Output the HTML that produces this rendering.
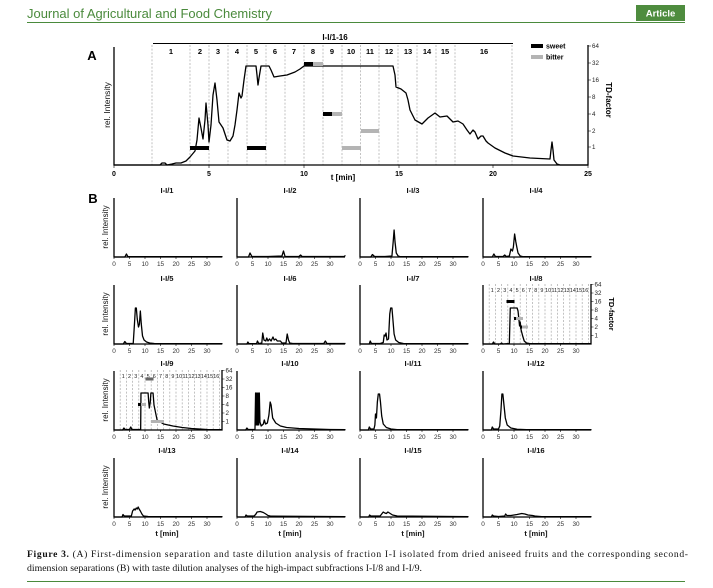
<!DOCTYPE html>
<html><head><meta charset="utf-8"><style>
html,body{margin:0;padding:0;background:#fff;}
svg{display:block;}
text{font-family:"Liberation Sans",Arial,sans-serif;}
text.cap{font-family:"Liberation Serif","Times New Roman",serif;}
.t{font-size:6.4px;fill:#333;text-anchor:middle;}
.tt{font-size:7.6px;font-weight:bold;text-anchor:middle;fill:#111;}
.ax{stroke:#000;stroke-width:1.3;fill:none;}
.tk{stroke:#000;stroke-width:0.6;}
.tr{fill:none;stroke:#000;stroke-width:1.3;stroke-linejoin:round;}
.dl{stroke:#a8a8a8;stroke-width:0.7;stroke-dasharray:2,1.6;}
.td{font-size:6.2px;fill:#222;}
.fn{font-size:5.4px;fill:#222;text-anchor:middle;}
</style></head><body>
<svg width="713" height="588" viewBox="0 0 713 588" xmlns="http://www.w3.org/2000/svg">
<rect width="713" height="588" fill="#fff"/>
<!-- header -->
<text x="27" y="18" font-size="13" fill="#4a8a3c" textLength="245" lengthAdjust="spacingAndGlyphs">Journal of Agricultural and Food Chemistry</text>
<line x1="27" y1="22.5" x2="685" y2="22.5" stroke="#4a8a3c" stroke-width="1"/>
<rect x="636" y="5" width="49" height="16" fill="#4e8c3e"/>
<text x="660.5" y="16.5" font-size="9.5" font-weight="bold" fill="#fff" text-anchor="middle">Article</text>

<!-- ===== Panel A ===== -->
<text x="92" y="60" font-size="13" font-weight="bold" text-anchor="middle">A</text>
<text x="335" y="40" font-size="8" font-weight="bold" text-anchor="middle">I-I/1-16</text>
<line x1="153" y1="43.5" x2="513" y2="43.5" stroke="#000" stroke-width="0.9"/>
<g class="dl">
<line x1="152" y1="45" x2="152" y2="165"/><line x1="190" y1="45" x2="190" y2="165"/>
<line x1="209" y1="45" x2="209" y2="165"/><line x1="228" y1="45" x2="228" y2="165"/>
<line x1="247" y1="45" x2="247" y2="165"/><line x1="266" y1="45" x2="266" y2="165"/>
<line x1="285" y1="45" x2="285" y2="165"/><line x1="304" y1="45" x2="304" y2="165"/>
<line x1="323" y1="45" x2="323" y2="165"/><line x1="342" y1="45" x2="342" y2="165"/>
<line x1="360.5" y1="45" x2="360.5" y2="165"/><line x1="379" y1="45" x2="379" y2="165"/>
<line x1="398" y1="45" x2="398" y2="165"/><line x1="417" y1="45" x2="417" y2="165"/>
<line x1="436" y1="45" x2="436" y2="165"/><line x1="455" y1="45" x2="455" y2="165"/>
<line x1="512" y1="45" x2="512" y2="165"/>
</g>
<g font-size="7.5" font-weight="bold" text-anchor="middle">
<text x="171" y="54">1</text><text x="200" y="54">2</text><text x="218" y="54">3</text>
<text x="237" y="54">4</text><text x="256" y="54">5</text><text x="275" y="54">6</text>
<text x="294" y="54">7</text><text x="313" y="54">8</text><text x="332" y="54">9</text>
<text x="351" y="54">10</text><text x="370" y="54">11</text><text x="389" y="54">12</text>
<text x="408" y="54">13</text><text x="427" y="54">14</text><text x="445" y="54">15</text>
<text x="484" y="54">16</text>
</g>
<!-- legend -->
<rect x="531" y="44" width="12" height="4" fill="#000"/>
<text x="546" y="48.5" font-size="7" font-weight="bold">sweet</text>
<rect x="531" y="55" width="12" height="4" fill="#b4b4b4"/>
<text x="546" y="59.5" font-size="7" font-weight="bold">bitter</text>
<!-- axes -->
<path class="ax" d="M114,47 V165 H588 V45" stroke-width="1.5"/>
<path class="tk" d="M114,165v3M209,165v3M304,165v3M399,165v3M493,165v3M588,165v3"/>
<path class="tk" d="M588,46h3M588,63h3M588,80h3M588,97h3M588,114h3M588,131h3M588,147h3"/>
<g class="td">
<text x="592" y="48">64</text><text x="592" y="65">32</text><text x="592" y="82">16</text>
<text x="592" y="99">8</text><text x="592" y="116">4</text><text x="592" y="133">2</text><text x="592" y="149">1</text>
</g>
<text transform="translate(606,100) rotate(90)" font-size="8" font-weight="bold" text-anchor="middle">TD-factor</text>
<text transform="translate(110,105) rotate(-90)" font-size="8.5" text-anchor="middle" fill="#111">rel. Intensity</text>
<g font-size="7" font-weight="bold" text-anchor="middle">
<text x="114" y="176">0</text><text x="209" y="176">5</text><text x="304" y="176">10</text>
<text x="399" y="176">15</text><text x="493" y="176">20</text><text x="588" y="176">25</text>
</g>
<text x="343" y="180" font-size="8" font-weight="bold" text-anchor="middle">t [min]</text>
<path class="tr" stroke-width="1.4" d="M114,165 L160,165 L162,163 L165,163 L167,165 L172,164 L176,163 L181,163 L186,161 L190,157 L195,151 L197,140 L199,118 L201,128 L203,139 L205,120 L206,103 L208,125 L209,142 L211,125 L213,95 L215,83 L217,100 L219,122 L223,128 L227,140 L230,141 L233,136 L235,125 L237,110 L239,93 L241,98 L242,96 L244,80 L246,66 L256,66 L257,75 L258,85 L259,78 L261,66 L269,66 L271,70 L274,77 L280,76 L287,75 L295,72 L300,69 L304,66 L393,66 L395,75 L396,87 L401,89 L406,93 L408,100 L410,110 L415,120 L422,124 L428,118 L435,113 L440,117 L447,116 L453,122 L458,121 L463,124 L467,130 L470,134 L473,130 L475,132 L478,139 L481,136 L483,136 L486,141 L488,143 L495,148 L505,153 L513,156 L530,158 L550,159 L551,150 L552,142 L553,150 L554,160 L557,164 L560,165 L588,165"/>
<!-- taste bars A -->
<rect x="190" y="146" width="19" height="4" fill="#000"/>
<rect x="247" y="146" width="19" height="4" fill="#000"/>
<rect x="304" y="62" width="9" height="4" fill="#000"/>
<rect x="313" y="62" width="10" height="4" fill="#b4b4b4"/>
<rect x="323" y="112" width="9" height="4" fill="#000"/>
<rect x="332" y="112" width="10" height="4" fill="#b4b4b4"/>
<rect x="342" y="146" width="19" height="4" fill="#b4b4b4"/>
<rect x="361" y="129" width="18" height="4" fill="#b4b4b4"/>

<!-- ===== Panel B ===== -->
<text x="93" y="203" font-size="13" font-weight="bold" text-anchor="middle">B</text>
<text transform="translate(108,227) rotate(-90)" font-size="8" text-anchor="middle" fill="#111">rel. Intensity</text>
<text transform="translate(108,314) rotate(-90)" font-size="8" text-anchor="middle" fill="#111">rel. Intensity</text>
<text transform="translate(108,400) rotate(-90)" font-size="8" text-anchor="middle" fill="#111">rel. Intensity</text>
<text transform="translate(108,487) rotate(-90)" font-size="8" text-anchor="middle" fill="#111">rel. Intensity</text>

<!-- Row 1 -->
<g transform="translate(114,257)">
<path class="ax" d="M0,-59V0H108"/><path class="tk" d="M0,0v2M15.5,0v2M31,0v2M46.5,0v2M62,0v2M77.5,0v2M93,0v2"/>
<text class="t" x="0" y="9">0</text><text class="t" x="15.5" y="9">5</text><text class="t" x="31" y="9">10</text><text class="t" x="46.5" y="9">15</text><text class="t" x="62" y="9">20</text><text class="t" x="77.5" y="9">25</text><text class="t" x="93" y="9">30</text>
<text class="tt" x="53" y="-64">I-I/1</text>
<path class="tr" transform="scale(3.1,-1)" vector-effect="non-scaling-stroke" d="M0,0 L3.5,0 L4,3 L4.5,0.3 L35,0.3"/>
</g>
<g transform="translate(237,257)">
<path class="ax" d="M0,-59V0H108"/><path class="tk" d="M0,0v2M15.5,0v2M31,0v2M46.5,0v2M62,0v2M77.5,0v2M93,0v2"/>
<text class="t" x="0" y="9">0</text><text class="t" x="15.5" y="9">5</text><text class="t" x="31" y="9">10</text><text class="t" x="46.5" y="9">15</text><text class="t" x="62" y="9">20</text><text class="t" x="77.5" y="9">25</text><text class="t" x="93" y="9">30</text>
<text class="tt" x="53" y="-64">I-I/2</text>
<path class="tr" transform="scale(3.1,-1)" vector-effect="non-scaling-stroke" d="M0,0 L3.7,0 L4.2,4 L4.8,0.5 L10,0.5 L14.5,1 L15,6 L15.5,0.5 L20,0.5 L20.5,2 L21,0.5 L34.5,0.5 L35,1.5"/>
</g>
<g transform="translate(360,257)">
<path class="ax" d="M0,-59V0H108"/><path class="tk" d="M0,0v2M15.5,0v2M31,0v2M46.5,0v2M62,0v2M77.5,0v2M93,0v2"/>
<text class="t" x="0" y="9">0</text><text class="t" x="15.5" y="9">5</text><text class="t" x="31" y="9">10</text><text class="t" x="46.5" y="9">15</text><text class="t" x="62" y="9">20</text><text class="t" x="77.5" y="9">25</text><text class="t" x="93" y="9">30</text>
<text class="tt" x="53" y="-64">I-I/3</text>
<path class="tr" transform="scale(3.1,-1)" vector-effect="non-scaling-stroke" d="M0,0 L3.5,0 L4,2.5 L4.7,0.5 L8,0.5 L10.3,1 L10.7,15 L11,27 L11.3,15 L11.7,4 L12.3,1 L13,0.3 L35,0.3"/>
</g>
<g transform="translate(483,257)">
<path class="ax" d="M0,-59V0H108"/><path class="tk" d="M0,0v2M15.5,0v2M31,0v2M46.5,0v2M62,0v2M77.5,0v2M93,0v2"/>
<text class="t" x="0" y="9">0</text><text class="t" x="15.5" y="9">5</text><text class="t" x="31" y="9">10</text><text class="t" x="46.5" y="9">15</text><text class="t" x="62" y="9">20</text><text class="t" x="77.5" y="9">25</text><text class="t" x="93" y="9">30</text>
<text class="tt" x="53" y="-64">I-I/4</text>
<path class="tr" transform="scale(3.1,-1)" vector-effect="non-scaling-stroke" d="M0,0 L3,0 L3.5,3 L4,0.5 L6.5,0.5 L7,2 L7.5,0.5 L8.5,1 L9,8 L9.5,6 L9.8,10 L10.2,23 L10.6,15 L10.9,10 L11.3,4 L12,1 L13,0.3 L35,0.3"/>
</g>

<!-- Row 2 -->
<g transform="translate(114,344)">
<path class="ax" d="M0,-59V0H108"/><path class="tk" d="M0,0v2M15.5,0v2M31,0v2M46.5,0v2M62,0v2M77.5,0v2M93,0v2"/>
<text class="t" x="0" y="9">0</text><text class="t" x="15.5" y="9">5</text><text class="t" x="31" y="9">10</text><text class="t" x="46.5" y="9">15</text><text class="t" x="62" y="9">20</text><text class="t" x="77.5" y="9">25</text><text class="t" x="93" y="9">30</text>
<text class="tt" x="53" y="-63">I-I/5</text>
<path class="tr" transform="scale(3.1,-1)" vector-effect="non-scaling-stroke" d="M0,0 L3,0 L3.5,2.5 L4,0.5 L6.2,0.5 L6.6,20 L6.9,36 L7.2,36 L7.5,25 L7.9,17 L8.2,20 L8.5,33 L8.8,20 L9.2,8 L9.7,4 L10.5,2 L11.5,1 L13,0.5 L35,0.3"/>
</g>
<g transform="translate(237,344)">
<path class="ax" d="M0,-59V0H108"/><path class="tk" d="M0,0v2M15.5,0v2M31,0v2M46.5,0v2M62,0v2M77.5,0v2M93,0v2"/>
<text class="t" x="0" y="9">0</text><text class="t" x="15.5" y="9">5</text><text class="t" x="31" y="9">10</text><text class="t" x="46.5" y="9">15</text><text class="t" x="62" y="9">20</text><text class="t" x="77.5" y="9">25</text><text class="t" x="93" y="9">30</text>
<text class="tt" x="53" y="-63">I-I/6</text>
<path class="tr" transform="scale(3.1,-1)" vector-effect="non-scaling-stroke" d="M0,0 L3.2,0 L3.5,2 L3.9,0.3 L6.3,0.3 L6.6,3 L7,0.5 L8,1 L8.3,11 L8.7,4 L9.3,3 L9.6,6 L10,3 L10.5,5 L11,3 L11.6,7 L12,4 L12.5,5 L13,3 L14,3 L14.5,1 L15.8,1 L16.2,10 L16.6,4 L17,1 L18,0.5 L28,0.5 L28.5,3 L29,0.5 L35,0.5"/>
</g>
<g transform="translate(360,344)">
<path class="ax" d="M0,-59V0H108"/><path class="tk" d="M0,0v2M15.5,0v2M31,0v2M46.5,0v2M62,0v2M77.5,0v2M93,0v2"/>
<text class="t" x="0" y="9">0</text><text class="t" x="15.5" y="9">5</text><text class="t" x="31" y="9">10</text><text class="t" x="46.5" y="9">15</text><text class="t" x="62" y="9">20</text><text class="t" x="77.5" y="9">25</text><text class="t" x="93" y="9">30</text>
<text class="tt" x="53" y="-63">I-I/7</text>
<path class="tr" transform="scale(3.1,-1)" vector-effect="non-scaling-stroke" d="M0,0 L3,0 L3.3,3 L3.7,0.5 L6.5,0.5 L7.5,1.5 L7.8,9 L8.1,8 L8.4,11 L8.7,4 L9.2,5 L9.6,30 L9.9,36 L10.3,36 L10.6,25 L11,10 L11.5,4 L12.5,1.5 L14,0.5 L35,0.3"/>
</g>
<g transform="translate(483,344)">
<g class="dl">
<line x1="6.2" y1="-60" x2="6.2" y2="0"/><line x1="12.4" y1="-60" x2="12.4" y2="0"/><line x1="18.6" y1="-60" x2="18.6" y2="0"/><line x1="24.8" y1="-60" x2="24.8" y2="0"/><line x1="31" y1="-60" x2="31" y2="0"/><line x1="37.2" y1="-60" x2="37.2" y2="0"/><line x1="43.4" y1="-60" x2="43.4" y2="0"/><line x1="49.6" y1="-60" x2="49.6" y2="0"/><line x1="55.8" y1="-60" x2="55.8" y2="0"/><line x1="62" y1="-60" x2="62" y2="0"/><line x1="68.2" y1="-60" x2="68.2" y2="0"/><line x1="74.4" y1="-60" x2="74.4" y2="0"/><line x1="80.6" y1="-60" x2="80.6" y2="0"/><line x1="86.8" y1="-60" x2="86.8" y2="0"/><line x1="93" y1="-60" x2="93" y2="0"/><line x1="99.2" y1="-60" x2="99.2" y2="0"/><line x1="105.4" y1="-60" x2="105.4" y2="0"/>
</g>
<g>
<text class="fn" x="9.3" y="-52">1</text><text class="fn" x="15.5" y="-52">2</text><text class="fn" x="21.7" y="-52">3</text><text class="fn" x="27.9" y="-52">4</text><text class="fn" x="34.1" y="-52">5</text><text class="fn" x="40.3" y="-52">6</text><text class="fn" x="46.5" y="-52">7</text><text class="fn" x="52.7" y="-52">8</text><text class="fn" x="58.9" y="-52">9</text><text class="fn" x="65.1" y="-52">10</text><text class="fn" x="71.3" y="-52">11</text><text class="fn" x="77.5" y="-52">12</text><text class="fn" x="83.7" y="-52">13</text><text class="fn" x="89.9" y="-52">14</text><text class="fn" x="96.1" y="-52">15</text><text class="fn" x="102.3" y="-52">16</text>
</g>
<path class="ax" d="M0,-59V0H108V-60"/><path class="tk" d="M0,0v2M15.5,0v2M31,0v2M46.5,0v2M62,0v2M77.5,0v2M93,0v2"/>
<path class="tk" d="M108,-59.5h2.5M108,-51h2.5M108,-42.5h2.5M108,-34h2.5M108,-25.5h2.5M108,-17h2.5M108,-8.5h2.5"/>
<text class="td" x="111.5" y="-57.5">64</text><text class="td" x="111.5" y="-49">32</text><text class="td" x="111.5" y="-40.5">16</text><text class="td" x="111.5" y="-32">8</text><text class="td" x="111.5" y="-23.5">4</text><text class="td" x="111.5" y="-15">2</text><text class="td" x="111.5" y="-6.5">1</text>
<text transform="translate(126,-30) rotate(90)" font-size="7.5" font-weight="bold" text-anchor="middle">TD-factor</text>
<text class="t" x="0" y="9">0</text><text class="t" x="15.5" y="9">5</text><text class="t" x="31" y="9">10</text><text class="t" x="46.5" y="9">15</text><text class="t" x="62" y="9">20</text><text class="t" x="77.5" y="9">25</text><text class="t" x="93" y="9">30</text>
<text class="tt" x="53" y="-63">I-I/8</text>
<path class="tr" transform="scale(3.1,-1)" vector-effect="non-scaling-stroke" d="M0,0 L3,0 L3.4,2 L3.8,0 L5.5,0 L6,1 L6.4,0 L8.5,0.5 L8.8,36 L11,36 L11.3,33 L11.8,18 L12,22 L12.3,14 L12.8,8 L13.3,3 L14,1 L15,0.5 L35,0.3"/>
<rect x="23.5" y="-44" width="8" height="3" fill="#000"/>
<rect x="31" y="-27" width="2" height="3" fill="#000"/>
<rect x="33" y="-27" width="7" height="3" fill="#b4b4b4"/>
<rect x="37" y="-18.5" width="2" height="3" fill="#000"/>
<rect x="39" y="-18.5" width="6" height="3" fill="#b4b4b4"/>
</g>

<!-- Row 3 -->
<g transform="translate(114,430)">
<g class="dl">
<line x1="6.2" y1="-60" x2="6.2" y2="0"/><line x1="12.4" y1="-60" x2="12.4" y2="0"/><line x1="18.6" y1="-60" x2="18.6" y2="0"/><line x1="24.8" y1="-60" x2="24.8" y2="0"/><line x1="31" y1="-60" x2="31" y2="0"/><line x1="37.2" y1="-60" x2="37.2" y2="0"/><line x1="43.4" y1="-60" x2="43.4" y2="0"/><line x1="49.6" y1="-60" x2="49.6" y2="0"/><line x1="55.8" y1="-60" x2="55.8" y2="0"/><line x1="62" y1="-60" x2="62" y2="0"/><line x1="68.2" y1="-60" x2="68.2" y2="0"/><line x1="74.4" y1="-60" x2="74.4" y2="0"/><line x1="80.6" y1="-60" x2="80.6" y2="0"/><line x1="86.8" y1="-60" x2="86.8" y2="0"/><line x1="93" y1="-60" x2="93" y2="0"/><line x1="99.2" y1="-60" x2="99.2" y2="0"/><line x1="105.4" y1="-60" x2="105.4" y2="0"/>
</g>
<g>
<text class="fn" x="9.3" y="-52">1</text><text class="fn" x="15.5" y="-52">2</text><text class="fn" x="21.7" y="-52">3</text><text class="fn" x="27.9" y="-52">4</text><text class="fn" x="34.1" y="-52">5</text><text class="fn" x="40.3" y="-52">6</text><text class="fn" x="46.5" y="-52">7</text><text class="fn" x="52.7" y="-52">8</text><text class="fn" x="58.9" y="-52">9</text><text class="fn" x="65.1" y="-52">10</text><text class="fn" x="71.3" y="-52">11</text><text class="fn" x="77.5" y="-52">12</text><text class="fn" x="83.7" y="-52">13</text><text class="fn" x="89.9" y="-52">14</text><text class="fn" x="96.1" y="-52">15</text><text class="fn" x="102.3" y="-52">16</text>
</g>
<path class="ax" d="M0,-59V0H108V-60"/><path class="tk" d="M0,0v2M15.5,0v2M31,0v2M46.5,0v2M62,0v2M77.5,0v2M93,0v2"/>
<path class="tk" d="M108,-59.5h2.5M108,-51h2.5M108,-42.5h2.5M108,-34h2.5M108,-25.5h2.5M108,-17h2.5M108,-8.5h2.5"/>
<text class="td" x="111.5" y="-57.5">64</text><text class="td" x="111.5" y="-49">32</text><text class="td" x="111.5" y="-40.5">16</text><text class="td" x="111.5" y="-32">8</text><text class="td" x="111.5" y="-23.5">4</text><text class="td" x="111.5" y="-15">2</text><text class="td" x="111.5" y="-6.5">1</text>
<text class="t" x="0" y="9">0</text><text class="t" x="15.5" y="9">5</text><text class="t" x="31" y="9">10</text><text class="t" x="46.5" y="9">15</text><text class="t" x="62" y="9">20</text><text class="t" x="77.5" y="9">25</text><text class="t" x="93" y="9">30</text>
<text class="tt" x="53" y="-64">I-I/9</text>
<path class="tr" transform="scale(3.1,-1)" vector-effect="non-scaling-stroke" d="M0,0 L2.8,0 L3.2,2 L3.6,0.5 L5,0.5 L5.4,3 L5.8,0.5 L8.6,0.5 L8.7,37 L11,37 L11.2,28 L11.4,22 L11.7,28 L11.9,37 L12.6,37 L12.9,25 L13.9,10 L16,6 L19,4 L22,2.5 L25,1.5 L30,0.5 L35,0.3"/>
<rect x="31.5" y="-52.5" width="8" height="3" fill="#666"/>
<rect x="24" y="-27" width="3" height="3" fill="#000"/>
<rect x="27" y="-27" width="5" height="3" fill="#b4b4b4"/>
<rect x="37" y="-10" width="13" height="3" fill="#b4b4b4"/>
</g>
<g transform="translate(237,430)">
<path class="ax" d="M0,-59V0H108"/><path class="tk" d="M0,0v2M15.5,0v2M31,0v2M46.5,0v2M62,0v2M77.5,0v2M93,0v2"/>
<text class="t" x="0" y="9">0</text><text class="t" x="15.5" y="9">5</text><text class="t" x="31" y="9">10</text><text class="t" x="46.5" y="9">15</text><text class="t" x="62" y="9">20</text><text class="t" x="77.5" y="9">25</text><text class="t" x="93" y="9">30</text>
<text class="tt" x="53" y="-64">I-I/10</text>
<path class="tr" transform="scale(3.1,-1)" vector-effect="non-scaling-stroke" d="M0,0 L2.8,0 L3.2,2 L3.6,0.5 L5.8,0.5 L6,37 L6.2,5 L6.4,37 L6.6,5 L6.8,37 L7,5 L7.2,37 L7.4,8 L7.8,4 L8.5,6 L8.8,10 L9.2,6 L9.8,7 L10.3,15 L10.7,28 L11,25 L11.5,12 L12.5,7 L14,4 L16,2.5 L20,1.5 L25,1 L30,0.5 L35,0.3"/>
</g>
<g transform="translate(360,430)">
<path class="ax" d="M0,-59V0H108"/><path class="tk" d="M0,0v2M15.5,0v2M31,0v2M46.5,0v2M62,0v2M77.5,0v2M93,0v2"/>
<text class="t" x="0" y="9">0</text><text class="t" x="15.5" y="9">5</text><text class="t" x="31" y="9">10</text><text class="t" x="46.5" y="9">15</text><text class="t" x="62" y="9">20</text><text class="t" x="77.5" y="9">25</text><text class="t" x="93" y="9">30</text>
<text class="tt" x="53" y="-64">I-I/11</text>
<path class="tr" transform="scale(3.1,-1)" vector-effect="non-scaling-stroke" d="M0,0 L2.7,0 L3,3 L3.4,1 L4.5,1 L4.8,5 L5,16 L5.3,12 L5.6,28 L5.9,36 L6.3,36 L6.6,28 L7,14 L7.5,6 L8.5,2.5 L10,1 L12,0.3 L35,0.3"/>
</g>
<g transform="translate(483,430)">
<path class="ax" d="M0,-59V0H108"/><path class="tk" d="M0,0v2M15.5,0v2M31,0v2M46.5,0v2M62,0v2M77.5,0v2M93,0v2"/>
<text class="t" x="0" y="9">0</text><text class="t" x="15.5" y="9">5</text><text class="t" x="31" y="9">10</text><text class="t" x="46.5" y="9">15</text><text class="t" x="62" y="9">20</text><text class="t" x="77.5" y="9">25</text><text class="t" x="93" y="9">30</text>
<text class="tt" x="53" y="-64">I-I/12</text>
<path class="tr" transform="scale(3.1,-1)" vector-effect="non-scaling-stroke" d="M0,0 L2.7,0 L3,3 L3.4,1 L5,1 L5.4,4 L5.8,20 L6.1,36 L6.4,36 L6.8,24 L7.2,12 L7.8,5 L9,2 L11,0.7 L14,0.3 L35,0.3"/>
</g>

<!-- Row 4 -->
<g transform="translate(114,517)">
<path class="ax" d="M0,-59V0H108"/><path class="tk" d="M0,0v2M15.5,0v2M31,0v2M46.5,0v2M62,0v2M77.5,0v2M93,0v2"/>
<text class="t" x="0" y="9">0</text><text class="t" x="15.5" y="9">5</text><text class="t" x="31" y="9">10</text><text class="t" x="46.5" y="9">15</text><text class="t" x="62" y="9">20</text><text class="t" x="77.5" y="9">25</text><text class="t" x="93" y="9">30</text>
<text class="tt" x="53" y="-64">I-I/13</text>
<text class="tt" x="53" y="19">t [min]</text>
<path class="tr" transform="scale(3.1,-1)" vector-effect="non-scaling-stroke" d="M0,0 L2.6,0 L2.9,2.5 L3.3,1 L5.6,1 L6,6 L6.5,8 L6.8,7 L7.2,9 L7.5,8 L7.8,10 L8.1,8 L8.5,6 L9,3 L9.5,1 L11,0.5 L35,0.3"/>
</g>
<g transform="translate(237,517)">
<path class="ax" d="M0,-59V0H108"/><path class="tk" d="M0,0v2M15.5,0v2M31,0v2M46.5,0v2M62,0v2M77.5,0v2M93,0v2"/>
<text class="t" x="0" y="9">0</text><text class="t" x="15.5" y="9">5</text><text class="t" x="31" y="9">10</text><text class="t" x="46.5" y="9">15</text><text class="t" x="62" y="9">20</text><text class="t" x="77.5" y="9">25</text><text class="t" x="93" y="9">30</text>
<text class="tt" x="53" y="-64">I-I/14</text>
<text class="tt" x="53" y="19">t [min]</text>
<path class="tr" transform="scale(3.1,-1)" vector-effect="non-scaling-stroke" d="M0,0 L2.6,0 L2.9,2 L3.3,1 L5.5,1 L6,2.5 L6.5,5 L7.5,5.5 L8.5,4.5 L9.3,3 L10,1.5 L11,0.8 L35,0.3"/>
</g>
<g transform="translate(360,517)">
<path class="ax" d="M0,-59V0H108"/><path class="tk" d="M0,0v2M15.5,0v2M31,0v2M46.5,0v2M62,0v2M77.5,0v2M93,0v2"/>
<text class="t" x="0" y="9">0</text><text class="t" x="15.5" y="9">5</text><text class="t" x="31" y="9">10</text><text class="t" x="46.5" y="9">15</text><text class="t" x="62" y="9">20</text><text class="t" x="77.5" y="9">25</text><text class="t" x="93" y="9">30</text>
<text class="tt" x="53" y="-64">I-I/15</text>
<text class="tt" x="53" y="19">t [min]</text>
<path class="tr" transform="scale(3.1,-1)" vector-effect="non-scaling-stroke" d="M0,0 L2.8,0 L3.1,2 L3.5,1 L6.5,1 L7,3 L7.5,5 L8,4 L8.5,3.5 L9,5 L9.5,4 L10.5,2 L12,1 L35,0.3"/>
</g>
<g transform="translate(483,517)">
<path class="ax" d="M0,-59V0H108"/><path class="tk" d="M0,0v2M15.5,0v2M31,0v2M46.5,0v2M62,0v2M77.5,0v2M93,0v2"/>
<text class="t" x="0" y="9">0</text><text class="t" x="15.5" y="9">5</text><text class="t" x="31" y="9">10</text><text class="t" x="46.5" y="9">15</text><text class="t" x="62" y="9">20</text><text class="t" x="77.5" y="9">25</text><text class="t" x="93" y="9">30</text>
<text class="tt" x="53" y="-64">I-I/16</text>
<text class="tt" x="53" y="19">t [min]</text>
<path class="tr" transform="scale(3.1,-1)" vector-effect="non-scaling-stroke" d="M0,0 L2.7,0 L3,2 L3.4,1 L5,0.5 L7,1 L7.3,3 L7.7,1.5 L9,1.5 L11,2.5 L12.5,3.5 L13.5,3 L14.5,2 L16,1.5 L17,0.8 L19,0.3 L35,0.3"/>
</g>

<!-- caption -->
<text class="cap" x="27" y="557" style="font-family:'Liberation Serif','Times New Roman',serif;font-size:9.6px;" fill="#111" textLength="661" lengthAdjust="spacing"><tspan font-weight="bold">Figure 3.</tspan> (A) First-dimension separation and taste dilution analysis of fraction I-I isolated from dried aniseed fruits and the corresponding second-</text>
<text class="cap" x="27" y="571" style="font-family:'Liberation Serif','Times New Roman',serif;font-size:9.6px;" fill="#111" textLength="395" lengthAdjust="spacingAndGlyphs">dimension separations (B) with taste dilution analyses of the high-impact subfractions I-I/8 and I-I/9.</text>
<line x1="27" y1="581.5" x2="685" y2="581.5" stroke="#4a8a3c" stroke-width="1"/>
</svg>
</body></html>
